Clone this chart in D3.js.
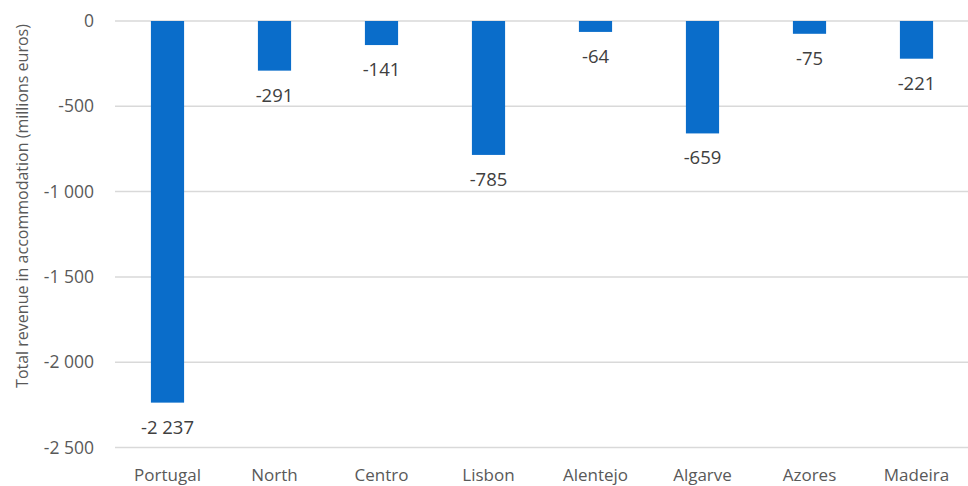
<!DOCTYPE html>
<html>
<head>
<meta charset="utf-8">
<script src="https://cdn.jsdelivr.net/npm/d3@7"></script>
<style>
  html, body { margin: 0; padding: 0; background: #fff; }
  svg { display: block; }
  text { font-family: "Open Sans", "DejaVu Sans", sans-serif; }
</style>
</head>
<body>
<svg id="chart" width="968" height="486"></svg>
<script>
// Change in total accommodation revenue by region (millions of euros)
const regions = ["Portugal", "North", "Centro", "Lisbon", "Alentejo", "Algarve", "Azores", "Madeira"];
const revenueChange = [-2237, -291, -141, -785, -64, -659, -75, -221];
const yTicks = [0, -500, -1000, -1500, -2000, -2500];
const yTitle = "Total revenue in accommodation (millions euros)";

const svg = d3.select("#chart");
const W = 968, H = 486;
const margin = { top: 21, right: -2, bottom: 38, left: 114 };
const plotW = W - margin.left - margin.right;

// Space as thousands separator, e.g. "-2 237"
const fmt = v => d3.format(",")(v).replace(/,/g, " ").replace("\u2212", "-");

const x = d3.scaleBand()
  .domain(regions)
  .range([margin.left, margin.left + plotW])
  .paddingInner(0.69)
  .paddingOuter(0.345);

const y = d3.scaleLinear()
  .domain([0, -2500])
  .range([margin.top, margin.top + 426.5]);

// Gridlines
svg.append("g")
  .selectAll("line")
  .data(yTicks)
  .join("line")
  .attr("x1", 115)
  .attr("x2", W)
  .attr("y1", d => y(d))
  .attr("y2", d => y(d))
  .attr("stroke", "#d9d9d9")
  .attr("stroke-width", 1.5);

// Y axis tick labels
svg.append("g")
  .selectAll("text")
  .data(yTicks)
  .join("text")
  .attr("x", 94)
  .attr("y", d => y(d))
  .attr("dy", "0.35em")
  .attr("text-anchor", "end")
  .attr("fill", "#595959")
  .attr("font-size", 17.5)
  .text(d => fmt(d));

// Bars
const data = regions.map((r, i) => ({ region: r, value: revenueChange[i] }));
svg.append("g")
  .selectAll("rect")
  .data(data)
  .join("rect")
  .attr("x", d => x(d.region))
  .attr("width", x.bandwidth())
  .attr("y", y(0))
  .attr("height", d => y(d.value) - y(0))
  .attr("fill", "#0a6dca");

// Value labels under each bar
svg.append("g")
  .selectAll("text")
  .data(data)
  .join("text")
  .attr("x", d => x(d.region) + x.bandwidth() / 2)
  .attr("y", d => y(d.value) + 31)
  .attr("text-anchor", "middle")
  .attr("fill", "#404040")
  .attr("font-size", 18.5)
  .text(d => fmt(d.value));

// Category labels
svg.append("g")
  .selectAll("text")
  .data(regions)
  .join("text")
  .attr("x", d => x(d) + x.bandwidth() / 2)
  .attr("y", 481)
  .attr("text-anchor", "middle")
  .attr("fill", "#595959")
  .attr("font-size", 17)
  .text(d => d);

// Y axis title
svg.append("text")
  .attr("transform", "translate(28,206) rotate(-90)")
  .attr("text-anchor", "middle")
  .attr("fill", "#595959")
  .attr("font-size", 16)
  .text(yTitle);
</script>
</body>
</html>
